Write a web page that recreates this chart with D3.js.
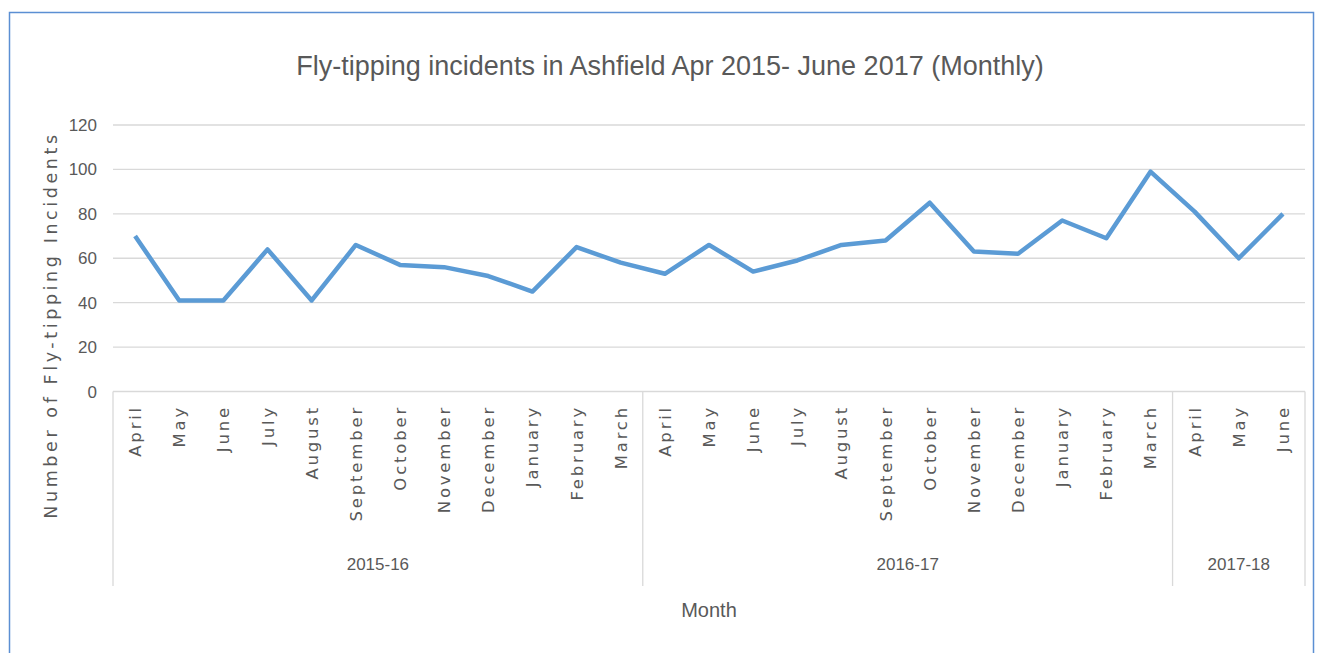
<!DOCTYPE html>
<meta charset="utf-8">
<style>
body { margin: 0; background: #fff; }
.grid line { stroke: #d9d9d9; stroke-width: 1.3; }
.ytick { font: 17px "Liberation Sans Narrow", "Liberation Sans", sans-serif; fill: #595959; }
.mlabel { font: 16.5px "DejaVu Sans", sans-serif; fill: #595959; letter-spacing: 2.8px; }
.ylabel { font: 17.5px "DejaVu Sans", sans-serif; fill: #595959; letter-spacing: 3.6px; }
.cal { font-family: "Liberation Sans Narrow", "Liberation Sans", sans-serif; fill: #595959; }
</style>
<body>
<script src="https://cdn.jsdelivr.net/npm/d3@7"></script>
<script>

// data
var months = ["April","May","June","July","August","September","October","November","December","January","February","March",
              "April","May","June","July","August","September","October","November","December","January","February","March",
              "April","May","June"];
var years = ["2015-16","2016-17","2017-18"];
var yearCounts = [12, 12, 3];
var incidents = [70,41,41,64,41,66,57,56,52,45,65,58,
                 53,66,54,59,66,68,85,63,62,77,69,99,
                 81,60,80];
var yTicks = [0,20,40,60,80,100,120];

var W = 1317, H = 653;
var plotLeft = 113, plotRight = 1305, plotTop = 125, plotBottom = 391.5;

var svg = d3.select("body").append("svg")
    .attr("width", W)
    .attr("height", H);

// outer frame
svg.append("rect")
    .attr("x", 9.5).attr("y", 12.5)
    .attr("width", 1304).attr("height", 700)
    .attr("fill", "none")
    .attr("stroke", "#5b8fd3")
    .attr("stroke-width", 1.5);

var x = d3.scaleBand()
    .domain(d3.range(months.length))
    .range([plotLeft, plotRight]);

var y = d3.scaleLinear()
    .domain([0, 120])
    .range([plotBottom, plotTop]);

// title
svg.append("text")
    .attr("class", "cal")
    .attr("x", 670).attr("y", 75)
    .attr("text-anchor", "middle")
    .style("font-size", "27px")
    .text("Fly-tipping incidents in Ashfield Apr 2015- June 2017 (Monthly)");

// gridlines
svg.append("g").attr("class", "grid")
  .selectAll("line")
  .data(yTicks)
  .enter().append("line")
    .attr("x1", plotLeft).attr("x2", plotRight)
    .attr("y1", function(d) { return y(d); })
    .attr("y2", function(d) { return y(d); });

// y tick labels
svg.selectAll(".ytick")
  .data(yTicks)
  .enter().append("text")
    .attr("class", "ytick")
    .attr("x", 97)
    .attr("y", function(d) { return y(d) + 6; })
    .attr("text-anchor", "end")
    .text(function(d) { return d; });

// y axis title
svg.append("text")
    .attr("class", "ylabel")
    .attr("transform", "translate(57,325) rotate(-90)")
    .attr("text-anchor", "middle")
    .text("Number of Fly-tipping Incidents");

// month labels
svg.selectAll(".mlabel")
  .data(months)
  .enter().append("text")
    .attr("class", "mlabel")
    .attr("transform", function(d, i) {
      return "translate(" + (x(i) + x.bandwidth() / 2 + 6) + ",405) rotate(-90)";
    })
    .attr("text-anchor", "end")
    .text(function(d) { return d; });

// year group separators and labels
var starts = [0];
yearCounts.forEach(function(c, i) { starts.push(starts[i] + c); });
var bx = function(i) { return i < months.length ? x(i) : plotRight; };

svg.selectAll(".sep")
  .data(starts)
  .enter().append("line")
    .attr("x1", function(d) { return bx(d); })
    .attr("x2", function(d) { return bx(d); })
    .attr("y1", plotBottom).attr("y2", 586)
    .attr("stroke", "#d9d9d9")
    .attr("stroke-width", 1.3);

svg.selectAll(".year")
  .data(years)
  .enter().append("text")
    .attr("class", "cal")
    .style("font-size", "17px")
    .attr("x", function(d, i) { return (bx(starts[i]) + bx(starts[i + 1])) / 2; })
    .attr("y", 570)
    .attr("text-anchor", "middle")
    .text(function(d) { return d; });

// x axis title
svg.append("text")
    .attr("class", "cal")
    .style("font-size", "20px")
    .attr("x", 709).attr("y", 617)
    .attr("text-anchor", "middle")
    .text("Month");

// the line
var line = d3.line()
    .x(function(d, i) { return x(i) + x.bandwidth() / 2; })
    .y(function(d) { return y(d); });

svg.append("path")
    .datum(incidents)
    .attr("fill", "none")
    .attr("stroke", "#5b9bd5")
    .attr("stroke-width", 4.5)
    .attr("stroke-linejoin", "round")
    .attr("d", line);

</script>
</body>
